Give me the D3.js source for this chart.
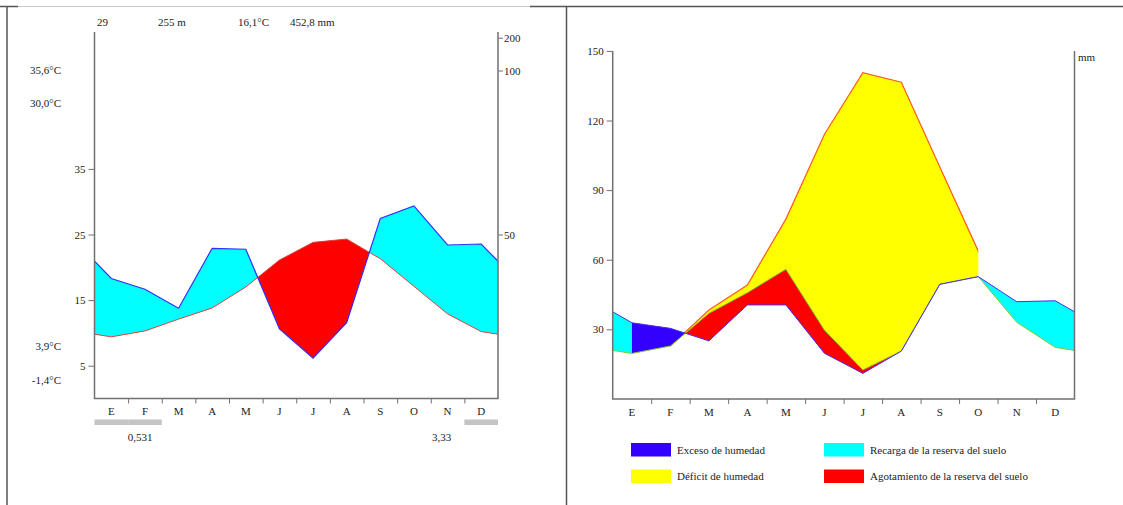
<!DOCTYPE html>
<html>
<head>
<meta charset="utf-8">
<script src="https://cdn.jsdelivr.net/npm/d3@7"></script>
<style>
  html, body { margin: 0; padding: 0; background: #fff; }
  svg text { font-family: "Liberation Serif", "Times New Roman", serif; font-size: 11px; fill: #222; }
</style>
</head>
<body>
<svg id="chart" width="1123" height="505"></svg>
<script>
// ---------------- DATA ----------------
const months = ["E", "F", "M", "A", "M", "J", "J", "A", "S", "O", "N", "D"];
// Left: climogram
const tempC = [9.4, 10.3, 12.1, 13.8, 17.0, 21.1, 23.8, 24.3, 21.3, 17.1, 12.9, 10.2];
const precipMm = [36.6, 33.3, 27.5, 45.8, 45.5, 21.2, 12.3, 23.1, 54.9, 58.7, 46.8, 47.1];
const tempTicks = [5, 15, 25, 35];
const precipTicks = [50, 100, 200];
const headerTexts = ["29", "255 m", "16,1\u00b0C", "452,8 mm"];
const sideTempLabels = ["35,6\u00b0C", "30,0\u00b0C", "3,9\u00b0C", "-1,4\u00b0C"];
const grayBarMonths = [0, 1, 11];
const bottomValues = ["0,531", "3,33"];
// Right: water balance
const precipEff = [32.8, 30.4, 25.0, 40.5, 40.5, 19.7, 11.0, 20.6, 49.4, 52.7, 41.9, 42.3];
const etp = [19.6, 22.8, 38.3, 49.1, 77.5, 114, 140.6, 136.5, 100, 63.7, 33.0, 22.2];
const etr = [19.6, 22.8, 36.9, 45.8, 55.9, 29.7, 12.5, 20.6, 49.4, 52.7, 33.0, 22.2];
const mmTicks = [30, 60, 90, 120, 150];
const legendLabels = ["Exceso de humedad", "D\u00e9ficit de humedad", "Recarga de la reserva del suelo", "Agotamiento de la reserva del suelo"];
const legendColors = ["#3300ff", "#ffff00", "#00ffff", "#ff0000"];

// ---------------- SETUP ----------------
const svg = d3.select("#chart");
const defs = svg.append("defs");
const axisColor = "#707070";
const wrapIdx = d3.range(-1, 13); // cyclic months beyond the edges, clipped later
const cyc = (arr, i) => arr[(i + 12) % 12];

// frame
svg.append("line").attr("x1", 0).attr("x2", 18).attr("y1", 6.5).attr("y2", 6.5).attr("stroke", "#555").attr("stroke-width", 1.5);
svg.append("line").attr("x1", 18).attr("x2", 530).attr("y1", 6.5).attr("y2", 6.5).attr("stroke", "#c8c8c8").attr("stroke-width", 1);
svg.append("line").attr("x1", 530).attr("x2", 1123).attr("y1", 6.5).attr("y2", 6.5).attr("stroke", "#555").attr("stroke-width", 1.5);
svg.append("line").attr("x1", 7).attr("x2", 7).attr("y1", 6.5).attr("y2", 505).attr("stroke", "#555").attr("stroke-width", 1.5);
svg.append("line").attr("x1", 566.5).attr("x2", 566.5).attr("y1", 6.5).attr("y2", 505).attr("stroke", "#555").attr("stroke-width", 1.5);

// ================= LEFT CHART =================
const L = { x0: 94.5, x1: 498, yB: 398.5, yTop: 32 };
const xL = d3.scaleLinear().domain([0, 12]).range([L.x0, L.x1]);
const xLBand = d3.scaleBand().domain(d3.range(12)).range([L.x0, L.x1]);
const tY = d3.scaleLinear().domain([0, 50]).range([L.yB, 70.5]);
const pY = d3.scaleLinear().domain([0, 100, 200]).range([L.yB, 70.5, 37.7]);

defs.append("clipPath").attr("id", "lRect").append("rect")
  .attr("x", L.x0).attr("y", 0).attr("width", L.x1 - L.x0).attr("height", L.yB);
const belowArea = (yf) => d3.area().x(i => xL(i + 0.5)).y0(L.yB + 5).y1(yf);
const aboveArea = (yf) => d3.area().x(i => xL(i + 0.5)).y0(-5).y1(yf);

defs.append("clipPath").attr("id", "lBelowP").append("path")
  .attr("d", belowArea(i => pY(cyc(precipMm, i)))(wrapIdx));
defs.append("clipPath").attr("id", "lBelowT").append("path")
  .attr("d", belowArea(i => tY(cyc(tempC, i)))(wrapIdx));

const gL = svg.append("g").attr("clip-path", "url(#lRect)");
gL.append("g").attr("clip-path", "url(#lBelowP)").append("path")
  .attr("d", aboveArea(i => tY(cyc(tempC, i)))(wrapIdx)).attr("fill", "#00ffff");
gL.append("g").attr("clip-path", "url(#lBelowT)").append("path")
  .attr("d", aboveArea(i => pY(cyc(precipMm, i)))(wrapIdx)).attr("fill", "#ff0000");
gL.append("path").attr("d", d3.line().x(i => xL(i + 0.5)).y(i => tY(cyc(tempC, i)))(wrapIdx))
  .attr("fill", "none").attr("stroke", "#e04040").attr("stroke-width", 1);
gL.append("path").attr("d", d3.line().x(i => xL(i + 0.5)).y(i => pY(cyc(precipMm, i)))(wrapIdx))
  .attr("fill", "none").attr("stroke", "#3030ff").attr("stroke-width", 1.2);

// axes left chart
const axL = svg.append("g").attr("transform", `translate(${L.x0},0)`)
  .call(d3.axisLeft(tY).tickValues(tempTicks).tickSize(6).tickPadding(3));
axL.select(".domain").remove();
const axR = svg.append("g").attr("transform", `translate(${L.x1},0)`)
  .call(d3.axisRight(pY).tickValues(precipTicks).tickSize(5).tickPadding(1));
axR.select(".domain").remove();
[axL, axR].forEach(a => {
  a.selectAll(".tick line").attr("stroke", axisColor);
  a.selectAll("text").attr("font-family", "Liberation Serif").attr("font-size", 11).attr("fill", "#222");
});
svg.append("path").attr("d", `M${L.x0},${L.yTop}V${L.yB}H${L.x1}V${L.yTop}`)
  .attr("fill", "none").attr("stroke", axisColor).attr("stroke-width", 1.5);
const axB = svg.append("g").attr("transform", `translate(0,${L.yB})`)
  .call(d3.axisBottom(xL).tickValues(d3.range(1, 12)).tickSize(5).tickFormat(""));
axB.select(".domain").remove();
axB.selectAll(".tick line").attr("stroke", axisColor);
const axBL = svg.append("g").attr("transform", `translate(0,${L.yB})`)
  .call(d3.axisBottom(xLBand).tickSize(0).tickPadding(9).tickFormat(i => months[i]));
axBL.select(".domain").remove();
axBL.selectAll("text").attr("font-family", "Liberation Serif").attr("font-size", 11).attr("fill", "#222");

// header texts
const headerX = [97, 158, 238, 290];
svg.selectAll(".hdr").data(headerTexts).join("text").attr("class", "hdr")
  .attr("x", (d, i) => headerX[i]).attr("y", 26).text(d => d);
// side labels
const sideY = [74, 107, 350, 384];
svg.selectAll(".side").data(sideTempLabels).join("text").attr("class", "side")
  .attr("x", 61).attr("y", (d, i) => sideY[i]).attr("text-anchor", "end").text(d => d);
// gray bars
svg.selectAll(".gbar").data(grayBarMonths).join("rect").attr("class", "gbar")
  .attr("x", d => xLBand(d)).attr("width", xLBand.bandwidth()).attr("y", 419.5).attr("height", 5.5)
  .attr("fill", "#c4c4c4");
const bottomX = [140, 441.5];
svg.selectAll(".bval").data(bottomValues).join("text").attr("class", "bval")
  .attr("x", (d, i) => bottomX[i]).attr("y", 441).attr("text-anchor", "middle").text(d => d);

// ================= RIGHT CHART =================
const R = { x0: 612.7, x1: 1074.5, yB: 398.9 };
const xR = d3.scaleLinear().domain([0, 12]).range([R.x0, R.x1]);
const xRBand = d3.scaleBand().domain(d3.range(12)).range([R.x0, R.x1]);
const yR = d3.scaleLinear().domain([0, 150]).range([R.yB, 50.9]);
const xc = i => xR(i + 0.5);

defs.append("clipPath").attr("id", "rRect").append("rect")
  .attr("x", R.x0).attr("y", 0).attr("width", R.x1 - R.x0).attr("height", R.yB);
defs.append("clipPath").attr("id", "rDef").append("rect")
  .attr("x", xc(1)).attr("y", 0).attr("width", xc(9) - xc(1)).attr("height", R.yB);
defs.append("clipPath").attr("id", "rBlue").append("rect")
  .attr("x", xc(0)).attr("y", 0).attr("width", xc(9) - xc(0)).attr("height", R.yB);
const cyanClip = defs.append("clipPath").attr("id", "rCyan");
cyanClip.append("rect").attr("x", R.x0).attr("y", 0).attr("width", xc(0) - R.x0).attr("height", R.yB);
cyanClip.append("rect").attr("x", xc(9)).attr("y", 0).attr("width", R.x1 - xc(9)).attr("height", R.yB);
const rBelow = (yf) => d3.area().x(xc).y0(R.yB + 5).y1(yf);
const rAbove = (yf) => d3.area().x(xc).y0(-5).y1(yf);
defs.append("clipPath").attr("id", "rBelowP").append("path")
  .attr("d", rBelow(i => yR(cyc(precipEff, i)))(wrapIdx));
defs.append("clipPath").attr("id", "rBelowETR").append("path")
  .attr("d", rBelow(i => yR(cyc(etr, i)))(wrapIdx));

const gR = svg.append("g").attr("clip-path", "url(#rRect)");
// deficit (yellow) between ETR and ETP
const gDef = gR.append("g").attr("clip-path", "url(#rDef)");
gDef.append("path").attr("d", d3.area().x(xc).y0(i => yR(cyc(etr, i))).y1(i => yR(cyc(etp, i)))(wrapIdx))
  .attr("fill", "#ffff00");
gDef.append("path").attr("d", d3.line().x(xc).y(i => yR(cyc(etp, i)))(wrapIdx))
  .attr("fill", "none").attr("stroke", "#ff5a1e").attr("stroke-width", 1.2);
// surplus / recharge (P above ETR)
const wetPath = rAbove(i => yR(cyc(etr, i)))(wrapIdx);
gR.append("g").attr("clip-path", "url(#rCyan)").append("g").attr("clip-path", "url(#rBelowP)")
  .append("path").attr("d", wetPath).attr("fill", "#00ffff");
gR.append("g").attr("clip-path", "url(#rBlue)").append("g").attr("clip-path", "url(#rBelowP)")
  .append("path").attr("d", wetPath).attr("fill", "#3300ff");
// depletion (ETR above P)
gR.append("g").attr("clip-path", "url(#rBelowETR)").append("path")
  .attr("d", rAbove(i => yR(cyc(precipEff, i)))(wrapIdx)).attr("fill", "#ff0000");
// lines
gR.append("path").attr("d", d3.line().x(xc).y(i => yR(cyc(etr, i)))(wrapIdx))
  .attr("fill", "none").attr("stroke", "#88c830").attr("stroke-width", 1);
gR.append("path").attr("d", d3.line().x(xc).y(i => yR(cyc(precipEff, i)))(wrapIdx))
  .attr("fill", "none").attr("stroke", "#4a2cf0").attr("stroke-width", 1);

// axes right chart
const ayR = svg.append("g").attr("transform", `translate(${R.x0},0)`)
  .call(d3.axisLeft(yR).tickValues(mmTicks).tickSize(6).tickPadding(3));
ayR.select(".domain").remove();
ayR.selectAll(".tick line").attr("stroke", axisColor);
ayR.selectAll("text").attr("font-family", "Liberation Serif").attr("font-size", 11).attr("fill", "#222");
svg.append("path").attr("d", `M${R.x0},${yR(150)}V${R.yB}H${R.x1}V${yR(150)}`)
  .attr("fill", "none").attr("stroke", axisColor).attr("stroke-width", 1.5);
const axRB = svg.append("g").attr("transform", `translate(0,${R.yB})`)
  .call(d3.axisBottom(xR).tickValues(d3.range(1, 12)).tickSize(5).tickFormat(""));
axRB.select(".domain").remove();
axRB.selectAll(".tick line").attr("stroke", axisColor);
const axRBL = svg.append("g").attr("transform", `translate(0,${R.yB})`)
  .call(d3.axisBottom(xRBand).tickSize(0).tickPadding(9).tickFormat(i => months[i]));
axRBL.select(".domain").remove();
axRBL.selectAll("text").attr("font-family", "Liberation Serif").attr("font-size", 11).attr("fill", "#222");
svg.append("text").attr("x", 1078).attr("y", 61).text("mm");

// legend
const legX = [631, 631, 824, 824];
const legY = [443, 469.5, 443, 469.5];
const leg = svg.selectAll(".leg").data(legendLabels).join("g").attr("class", "leg")
  .attr("transform", (d, i) => `translate(${legX[i]},${legY[i]})`);
leg.append("rect").attr("width", 40).attr("height", 13.5).attr("fill", (d, i) => legendColors[i]);
leg.append("text").attr("x", 46).attr("y", 10.5).text(d => d);
</script>
</body>
</html>
